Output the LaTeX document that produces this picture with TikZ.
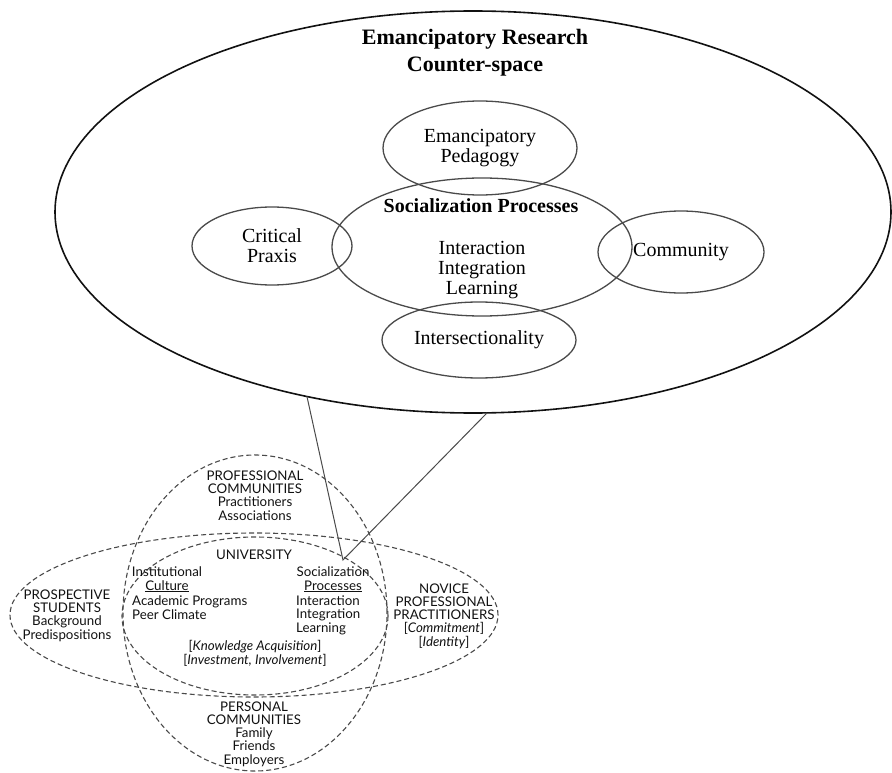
\documentclass[tikz,border=0pt]{standalone}
\usepackage{fontspec}
\setmainfont{Liberation Serif}
\newfontfamily\vennfont{Lato}
\usepackage{tikz}
\usetikzlibrary{shapes.geometric}
\definecolor{ink}{HTML}{111111}
\definecolor{softink}{HTML}{4A4A4A}

\begin{document}
\begin{tikzpicture}[x=1pt, y=-1pt,
    bigoval/.style={ellipse, draw=ink, line width=1.6pt, inner sep=0pt, outer sep=0pt},
    bubble/.style={ellipse, draw=softink, line width=1.3pt, inner sep=0pt, outer sep=0pt, align=center, font=\fontsize{20}{20}\selectfont},
    venn/.style={ellipse, draw=softink, line width=1.1pt, dash pattern=on 5pt off 3pt, inner sep=0pt, outer sep=0pt},
    serif/.style={inner sep=0pt, anchor=base, align=center, font=\fontsize{20}{20}\selectfont},
    sans/.style={inner sep=0pt, anchor=base, align=center, text=ink, font=\vennfont\fontsize{13.3}{13.2}\selectfont},
    link/.style={draw=softink, line width=1pt}]
  \useasboundingbox (0,0) rectangle (892,773);

  \node[bigoval, minimum width=836pt, minimum height=402pt] (counter) at (473,212) {};
  \node[serif, font=\fontsize{22}{27}\selectfont\bfseries] (countertitle) at (475,72) {Emancipatory Research\\Counter-space};
  \node[bubble, minimum width=194pt, minimum height=94pt] (pedagogy) at (480,148) {Emancipatory\\Pedagogy};
  \node[bubble, minimum width=300pt, minimum height=138pt] (socialization) at (482,247) {};
  \node[serif, font=\fontsize{20}{20}\selectfont\bfseries] (socialhead) at (481,212) {Socialization Processes};
  \node[serif] (sociallist) at (482,294) {Interaction\\Integration\\Learning};
  \node[bubble, minimum width=160pt, minimum height=78pt] (praxis) at (272,246) {Critical\\Praxis};
  \node[bubble, minimum width=166pt, minimum height=82pt] (community) at (681,252) {Community};
  \node[bubble, minimum width=194pt, minimum height=76pt] (intersect) at (479,340) {Intersectionality};

  \node[venn, minimum width=264pt, minimum height=316pt] (communities) at (255,613) {};
  \node[venn, minimum width=488pt, minimum height=164pt] (pipeline) at (254,615) {};
  \node[venn, minimum width=266pt, minimum height=158pt] (university) at (255,616) {};

  \node[sans] (proftext) at (255,520) {PROFESSIONAL\\COMMUNITIES\\Practitioners\\Associations};
  \node[sans] (unitext) at (254,559) {UNIVERSITY};
  \node[sans] (culturetext) at (167,590) {Institutional\\\underline{Culture}};
  \node[sans, anchor=base west, align=left] (programtext) at (132,619) {Academic Programs\\Peer Climate};
  \node[sans] (processtext) at (333,590) {Socialization\\\underline{Processes}};
  \node[sans, anchor=base west, align=left] (interacttext) at (296,632) {Interaction\\Integration\\Learning};
  \node[sans] (knowtext) at (255,664) {{[}\textit{Knowledge Acquisition}]\\{[}\textit{Investment, Involvement}]};
  \node[sans] (studenttext) at (67,639) {PROSPECTIVE\\STUDENTS\\Background\\Predispositions};
  \node[sans] (novicetext) at (444,646) {NOVICE\\PROFESSIONAL\\PRACTITIONERS\\{[}\textit{Commitment}]\\{[}\textit{Identity}]};
  \node[sans] (personaltext) at (254,764) {PERSONAL\\COMMUNITIES\\Family\\Friends\\Employers};

  \coordinate (apex) at (343,560);
  \draw[link] (counter.228) -- (apex) -- (counter.274);
\end{tikzpicture}
\end{document}
